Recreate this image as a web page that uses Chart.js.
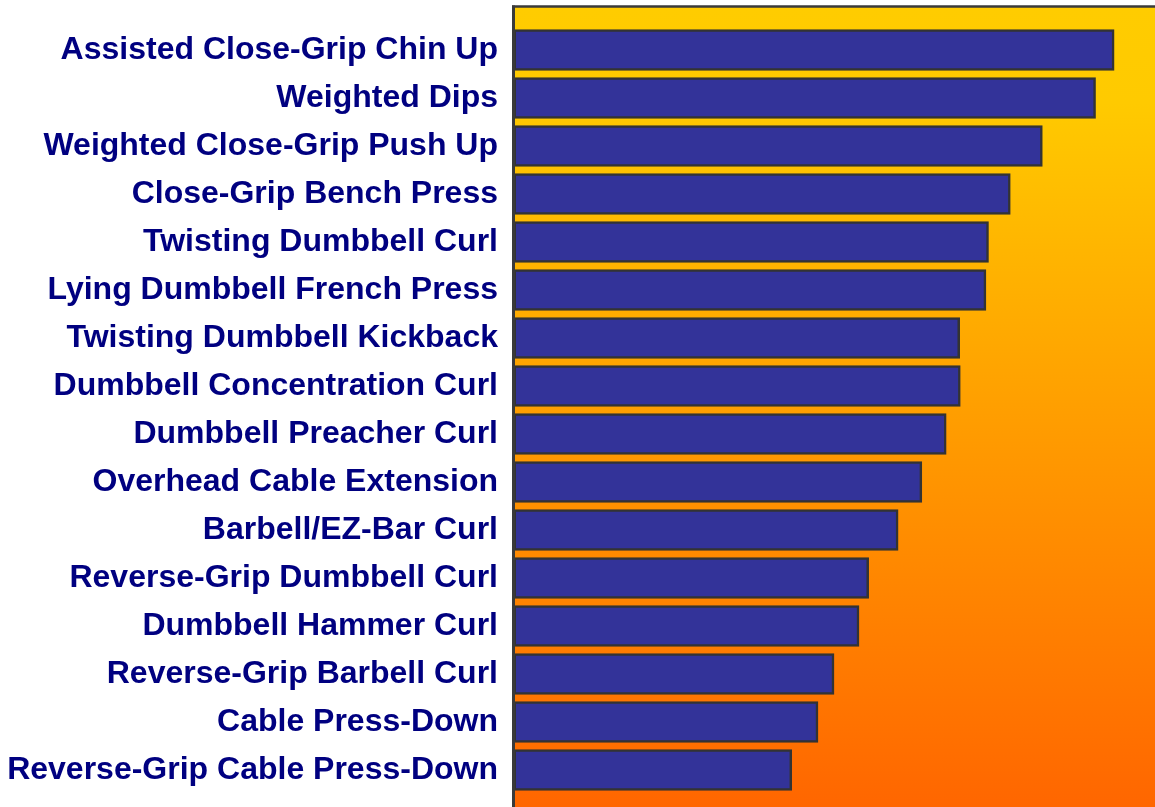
<!DOCTYPE html>
<html>
<head>
<meta charset="utf-8">
<script src="https://cdn.jsdelivr.net/npm/chart.js@4"></script>
<style>
html,body{margin:0;padding:0;background:#fff;}
#wrap{width:1155px;height:807px;position:relative;}
</style>
</head>
<body>
<div id="wrap"><canvas id="c" width="1155" height="807"></canvas></div>
<script>
const exercises = [
  "Assisted Close-Grip Chin Up",
  "Weighted Dips",
  "Weighted Close-Grip Push Up",
  "Close-Grip Bench Press",
  "Twisting Dumbbell Curl",
  "Lying Dumbbell French Press",
  "Twisting Dumbbell Kickback",
  "Dumbbell Concentration Curl",
  "Dumbbell Preacher Curl",
  "Overhead Cable Extension",
  "Barbell/EZ-Bar Curl",
  "Reverse-Grip Dumbbell Curl",
  "Dumbbell Hammer Curl",
  "Reverse-Grip Barbell Curl",
  "Cable Press-Down",
  "Reverse-Grip Cable Press-Down"
];
const scores = [93.6, 90.7, 82.4, 77.4, 74.0, 73.6, 69.5, 69.6, 67.4, 63.6, 59.9, 55.3, 53.8, 49.9, 47.4, 43.3];
const axisMax = 100;

const bgPlugin = {
  id: 'bgPlugin',
  beforeDraw(chart) {
    const ctx = chart.ctx, a = chart.chartArea;
    const top = 7, bottom = chart.height;
    const g = ctx.createLinearGradient(0, top, 0, bottom);
    g.addColorStop(0, '#FFCC00');
    g.addColorStop(0.12, '#FFCA00');
    g.addColorStop(1, '#FF6600');
    ctx.save();
    ctx.fillStyle = g;
    ctx.fillRect(a.left, top, chart.width - a.left, bottom - top);
    ctx.restore();
  },
  afterDatasetsDraw(chart) {
    const ctx = chart.ctx, a = chart.chartArea;
    ctx.save();
    ctx.strokeStyle = '#3a3a3a';
    ctx.lineWidth = 2.5;
    ctx.beginPath();
    ctx.moveTo(a.left - 2, 6.5);
    ctx.lineTo(chart.width, 6.5);
    ctx.stroke();
    ctx.lineWidth = 3;
    ctx.beginPath();
    ctx.moveTo(a.left - 0.5, 5.5);
    ctx.lineTo(a.left - 0.5, chart.height);
    ctx.stroke();
    ctx.restore();
  }
};

new Chart(document.getElementById('c'), {
  type: 'bar',
  data: {
    labels: exercises,
    datasets: [{
      data: scores,
      backgroundColor: '#333399',
      borderColor: '#333333',
      borderWidth: 2.5,
      borderSkipped: false,
      inflateAmount: 0.5,
      barPercentage: 0.84,
      categoryPercentage: 1.0
    }]
  },
  options: {
    indexAxis: 'y',
    responsive: false,
    animation: false,
    layout: { padding: { top: 26, bottom: 13, left: 0, right: 0 } },
    plugins: { legend: { display: false }, tooltip: { enabled: false } },
    scales: {
      x: { display: false, min: 0, max: axisMax },
      y: {
        afterFit(scale) { scale.width = 514; scale.paddingTop = 0; scale.paddingBottom = 0; },
        grid: { display: false, drawTicks: false },
        border: { display: false },
        ticks: {
          padding: 16,
          color: '#000080',
          font: { family: 'Arial', size: 32, weight: 'bold' }
        }
      }
    }
  },
  plugins: [bgPlugin]
});
</script>
</body>
</html>
